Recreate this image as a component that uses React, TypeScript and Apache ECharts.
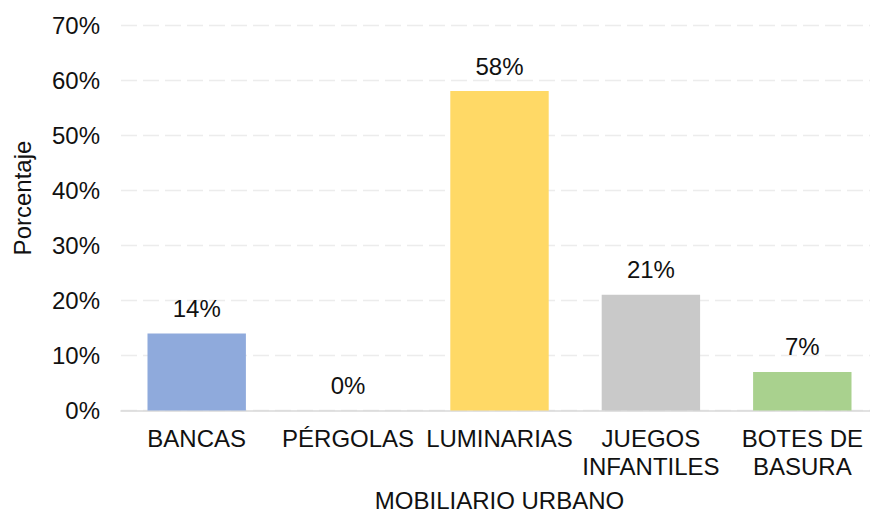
import React, { useEffect, useRef } from "react";
import * as echarts from "echarts";

const categories = ["BANCAS", "PÉRGOLAS", "LUMINARIAS", "JUEGOS\nINFANTILES", "BOTES DE\nBASURA"];
const values = [14, 0, 58, 21, 7];
const barColors = ["#8faadc", "#ffffff", "#ffd966", "#c9c9c9", "#a9d18e"];
const yAxisTitle = "Porcentaje";
const xAxisTitle = "MOBILIARIO URBANO";

const FONT = "'Liberation Sans', Arial, sans-serif";

export default function App() {
  const ref = useRef<HTMLDivElement>(null);
  useEffect(() => {
    if (!ref.current) return;
    document.body.style.margin = "0";
    document.body.style.overflow = "hidden";
    document.documentElement.style.overflow = "hidden";
    const chart = echarts.init(ref.current, undefined, { renderer: "svg" });
    chart.setOption({
      animation: false,
      backgroundColor: "#ffffff",
      textStyle: { fontFamily: FONT },
      grid: {
        left: 121,
        right: -8,
        top: 25,
        bottom: 103.5,
        containLabel: false,
        outerBoundsMode: "none",
      },
      xAxis: {
        type: "category",
        data: categories,
        name: xAxisTitle,
        nameLocation: "middle",
        nameGap: 78,
        nameTextStyle: { fontSize: 24, color: "#111", fontFamily: FONT },
        axisLine: { lineStyle: { color: "#d9d9d9", width: 1.5 } },
        axisTick: { show: false },
        axisLabel: {
          interval: 0,
          fontSize: 24,
          lineHeight: 28,
          color: "#111",
          fontFamily: FONT,
          margin: 14,
        },
      },
      yAxis: {
        type: "value",
        min: 0,
        max: 70,
        interval: 10,
        axisLine: { show: false },
        axisTick: { show: false },
        axisLabel: {
          formatter: (v: number) => `${v}%`,
          fontSize: 24,
          color: "#111",
          fontFamily: FONT,
          margin: 21,
        },
        splitLine: { lineStyle: { color: "#ececec", type: [16, 6], width: 1.3 } },
      },
      graphic: [
        {
          type: "text",
          x: 22,
          y: 198,
          rotation: Math.PI / 2,
          style: {
            text: yAxisTitle,
            fontSize: 24,
            fontFamily: FONT,
            fill: "#111",
            align: "center",
            verticalAlign: "middle",
          },
        },
      ],
      series: [
        {
          type: "bar",
          barWidth: "65%",
          data: values.map((v, i) => ({ value: v, itemStyle: { color: barColors[i] } })),
          label: {
            show: true,
            position: "top",
            distance: 13,
            formatter: (p: any) => `${p.value}%`,
            fontSize: 24,
            color: "#111",
            fontFamily: FONT,
          },
        },
      ],
    });
    return () => chart.dispose();
  }, []);
  return (
    <div
      ref={ref}
      style={{ position: "fixed", left: 0, top: 0, width: 870, height: 514, overflow: "hidden" }}
    />
  );
}
